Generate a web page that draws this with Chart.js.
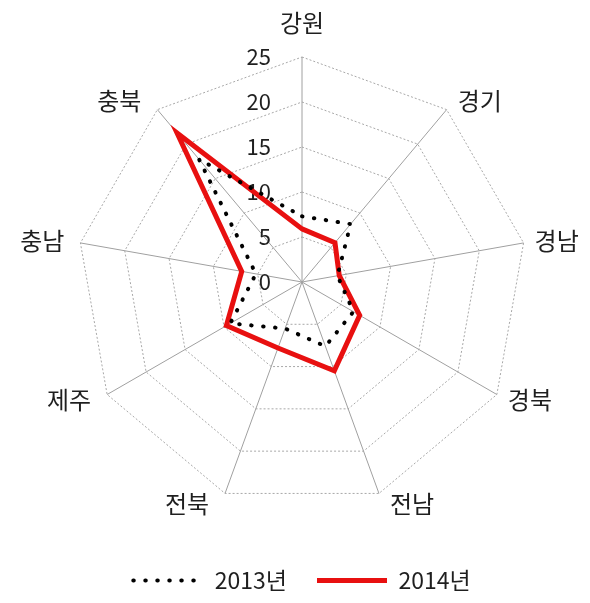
<!DOCTYPE html>
<html>
<head>
<meta charset="utf-8">
<script src="https://cdn.jsdelivr.net/npm/chart.js@4.4.0/dist/chart.umd.min.js"></script>
<style>
    html, body { margin: 0; padding: 0; background: #ffffff; }
    canvas { display: block; }
</style>
</head>
<body>
<canvas id="myRadarChart" width="590" height="603"></canvas>
<script>
var categories = ['강원', '경기', '경남', '경북', '전남', '전북', '제주', '충남', '충북'];
var values2013 = [7.3, 8.4, 4.0, 6.6, 7.6, 5.5, 9.2, 5.2, 17.8];
var values2014 = [5.9, 5.7, 4.2, 7.4, 10.5, 7.8, 9.7, 6.8, 21.6];
var seriesNames = ['2013년', '2014년'];
var tickValues = [0, 5, 10, 15, 20, 25];
var tickLabels = ['0', '5', '10', '15', '20', '25'];

var FONT = '"Noto Sans CJK KR", "Noto Sans", sans-serif';
var TEXT_COLOR = '#1f1f1f';

// tick numbers sit to the left of the top spoke instead of centred on it
var tickLabelPlugin = {
    id: 'tickLabelPlugin',
    beforeDatasetsDraw: function (chart) {
        var scale = chart.scales.r;
        var ctx = chart.ctx;
        ctx.save();
        ctx.font = '22px ' + FONT;
        ctx.fillStyle = TEXT_COLOR;
        ctx.textAlign = 'right';
        ctx.textBaseline = 'middle';
        for (var i = 0; i < tickValues.length; i++) {
            var r = scale.getDistanceFromCenterForValue(tickValues[i]);
            ctx.fillText(tickLabels[i], scale.xCenter - 31, scale.yCenter - r);
        }
        ctx.restore();
    }
};

// category names placed beside the outer corners, Excel style
var pointLabelPlugin = {
    id: 'pointLabelPlugin',
    beforeDatasetsDraw: function (chart) {
        var scale = chart.scales.r;
        var ctx = chart.ctx;
        ctx.save();
        ctx.font = '24px ' + FONT;
        ctx.fillStyle = TEXT_COLOR;
        for (var i = 0; i < categories.length; i++) {
            var angle = scale.getIndexAngle(i);
            var p = scale.getPointPosition(i, scale.drawingArea);
            var s = Math.sin(angle), c = Math.cos(angle);
            if (Math.abs(s) < 0.1) {
                ctx.textAlign = 'center';
                ctx.textBaseline = 'bottom';
                ctx.fillText(categories[i], p.x, p.y - 22);
                continue;
            }
            ctx.textAlign = s > 0 ? 'left' : 'right';
            ctx.textBaseline = 'middle';
            ctx.fillText(categories[i], p.x + (s > 0 ? 11 : -16), p.y - c * 11);
        }
        ctx.restore();
    }
};

// legend samples: point style drops the dash, so copy it back from the dataset
var legendLabels = function (chart) {
    var items = Chart.defaults.plugins.legend.labels.generateLabels(chart);
    items.forEach(function (item) {
        var ds = chart.data.datasets[item.datasetIndex];
        item.lineDash = ds.borderDash || [];
        item.lineCap = ds.borderCapStyle || 'butt';
        item.lineWidth = ds.borderWidth;
        item.strokeStyle = ds.borderColor;
    });
    return items;
};

var canvas = document.getElementById('myRadarChart');
var chart = new Chart(canvas, {
    type: 'radar',
    data: {
        labels: categories,
        datasets: [
            {
                label: seriesNames[0],
                data: values2013,
                borderColor: '#000000',
                borderWidth: 4,
                borderDash: [0.5, 11.5],
                borderCapStyle: 'round',
                pointRadius: 0,
                fill: false
            },
            {
                label: seriesNames[1],
                data: values2014,
                borderColor: 'rgb(232,16,16)',
                borderWidth: 5,
                borderJoinStyle: 'miter',
                pointRadius: 0,
                fill: false
            }
        ]
    },
    options: {
        responsive: false,
        animation: false,
        layout: { padding: { top: 26, bottom: 1, left: 77, right: 63 } },
        scales: {
            r: {
                min: 0,
                max: 25,
                ticks: { stepSize: 5, display: false },
                pointLabels: { display: false },
                grid: { color: '#a8a8a8', lineWidth: 1 },
                border: { dash: [2, 2] },
                angleLines: { color: '#a0a0a0', lineWidth: 1 }
            }
        },
        plugins: {
            legend: {
                position: 'bottom',
                labels: {
                    usePointStyle: true,
                    pointStyle: 'line',
                    pointStyleWidth: 70,
                    padding: 30,
                    color: TEXT_COLOR,
                    font: { size: 23, family: FONT },
                    generateLabels: legendLabels
                }
            },
            tooltip: { enabled: false }
        }
    },
    plugins: [tickLabelPlugin, pointLabelPlugin]
});
</script>
</body>
</html>
